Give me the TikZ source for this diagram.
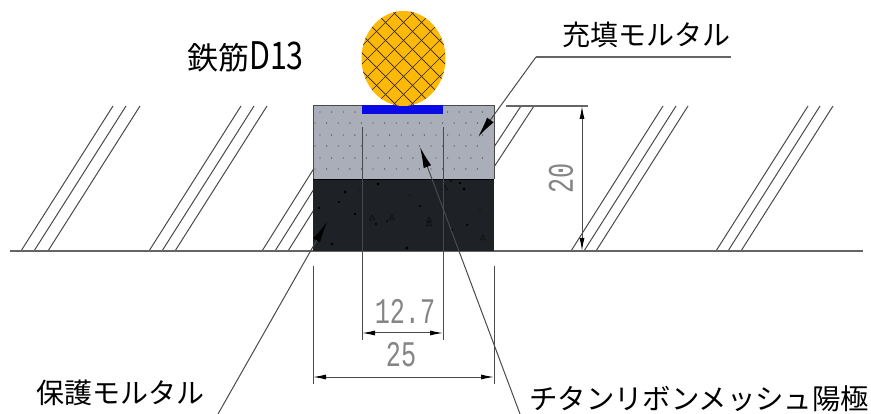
\documentclass[tikz,border=0pt]{standalone}
\usepackage{fontspec}
\setmainfont{Noto Sans CJK JP}
\newfontfamily\dimfont{Liberation Mono}
\usetikzlibrary{arrows.meta}
\definecolor{linegray}{HTML}{4A4A4A}
\definecolor{dimgray}{HTML}{858585}
\definecolor{fillmortar}{HTML}{A9AEB9}
\definecolor{protmortar}{HTML}{1E2126}
\definecolor{rebar}{HTML}{FDB908}
\definecolor{ribbon}{HTML}{0A0AE6}
\tikzset{
  thinline/.style={draw=linegray,line width=1pt},
  heavyline/.style={draw=linegray!85,line width=1.5pt},
  hatchline/.style={draw=linegray,line width=1pt},
  leader/.style={draw=linegray,line width=1pt,-{Latex[length=21pt,width=8pt,black]}},
  dimline/.style={draw=linegray,line width=1pt,{Latex[length=13pt,width=5pt,black]}-{Latex[length=13pt,width=5pt,black]}},
  label/.style={inner sep=0pt,text=black,font=\fontsize{28}{28}\selectfont},
  dimtext/.style={inner sep=0pt,text=dimgray,font=\fontsize{36}{36}\dimfont},
}
\begin{document}
\begin{tikzpicture}[x=1pt,y=-1pt]
\useasboundingbox (0,0) rectangle (871,414);
% hatch groups
\foreach \x in {21,34,48,149,162,175,571,584,596,716,728,741}
  \draw[hatchline] (\x,251) -- (\x+92,106);
\foreach \x in {262,275,288}
  \draw[hatchline] (\x,251) -- (\x+56,162);
\draw[hatchline] (494,147) -- (521,106);
\draw[hatchline] (494,167) -- (534,106);
% ground
\coordinate (gl) at (10,251);
\coordinate (gr) at (863,251);
\draw[heavyline] (gl) -- (gr);
% mortars
\fill[fillmortar] (313,106) rectangle (494,179);
\draw[draw=linegray,line width=1pt] (313,179) -- (313,106) -- (494,106) -- (494,179);
\foreach \y/\o in {112/0,123/-5,135/0,146/-5,158/0,169/-5}
  \foreach \i in {0,...,14}
    \fill[black!70] (320+\o+\i*11.6,\y) circle (0.7pt);
\fill[protmortar] (313,179) rectangle (494,251);
\draw[draw=black,line width=0.8pt] (313,179) -- (494,179);
% specks
\foreach \x/\y/\r in {345/192/1.6,339/202/1.2,355/214/1.3,319/208/1.3,378/184/1.7,420/206/1.2,376/224/1.2,332/244/1.3,407/248/1.6,460/183/1.4,464/189/1.6,452/230/1.2,467/225/1.2,451/181/0.8,387/221/1,360/190/0.7,410/195/0.6,440/200/0.7,480/210/0.6}
  \fill[black] (\x,\y) circle (\r pt);
\foreach \x/\y in {372/218,392/218,429/224,429/220,483/238,445/188}
  \draw[black!70!protmortar,line width=0.5pt] (\x-2.5,\y+2) -- (\x,\y-3) -- (\x+2.5,\y+2) -- cycle;
% ribbon
\fill[ribbon] (362,105) rectangle (443,114);
% rebar
\begin{scope}
  \clip (403.5,58.5) ellipse [x radius=42,y radius=47.5];
  \fill[rebar] (360,10) rectangle (447,107);
  \foreach \k in {-9,...,9} {
    \draw[draw=black!80!rebar,line width=0.7pt] (403.5+\k*18-60,58.5-60) -- (403.5+\k*18+60,58.5+60);
    \draw[draw=black!80!rebar,line width=0.7pt] (403.5+\k*18+60,58.5-60) -- (403.5+\k*18-60,58.5+60);
  }
\end{scope}
% dimension extension lines
\coordinate (a1) at (362,127); \coordinate (a2) at (362,340);
\coordinate (b1) at (443,127); \coordinate (b2) at (443,340);
\draw[thinline] (a1) -- (a2);
\draw[thinline] (b1) -- (b2);
\coordinate (c1) at (313,266); \coordinate (c2) at (313,384);
\coordinate (d1) at (494,266); \coordinate (d2) at (494,384);
\draw[thinline] (c1) -- (c2);
\draw[thinline] (d1) -- (d2);
\coordinate (e1) at (506,106); \coordinate (e2) at (588,106);
\draw[heavyline] (e1) -- (e2);
% dimensions
\coordinate (m1) at (362,333); \coordinate (m2) at (443,333);
\draw[dimline] (m1) -- (m2);
\coordinate (n1) at (313,377); \coordinate (n2) at (494,377);
\draw[dimline] (n1) -- (n2);
\coordinate (h1) at (582,106); \coordinate (h2) at (582,251);
\draw[dimline] (h1) -- (h2);
\node[dimtext,anchor=center] (t127) at (405,311) {\scalebox{0.7}[1]{12.7}};
\node[dimtext,anchor=center] (t25) at (401,355) {\scalebox{0.7}[1]{25}};
\node[dimtext,anchor=center,rotate=90] (t20) at (561,178) {\scalebox{0.7}[1]{20}};
% labels
\node[label,anchor=west,font=\fontsize{31}{31}\selectfont] (ltek) at (187,57) {鉄筋\scalebox{0.8}[1]{\fontsize{38}{38}\selectfont D13}};
\node[label,anchor=west] (lfill) at (562,35) {充填モルタル};
\node[label,anchor=west] (lprot) at (36,393) {保護モルタル};
\node[label,anchor=west,font=\fontsize{28.4}{28.4}\selectfont] (lti) at (529,399) {チタンリボンメッシュ陽極};
% leaders
\coordinate (fe) at (731,57); \coordinate (fk) at (536,57); \coordinate (ft) at (478,137);
\draw[heavyline] (fe) -- (fk);
\draw[leader] (fk) -- (ft);
\coordinate (ps) at (218,414); \coordinate (pt) at (327,222);
\draw[leader] (ps) -- (pt);
\coordinate (ts) at (520,414); \coordinate (tt) at (420,147);
\draw[leader] (ts) -- (tt);
\end{tikzpicture}
\end{document}
